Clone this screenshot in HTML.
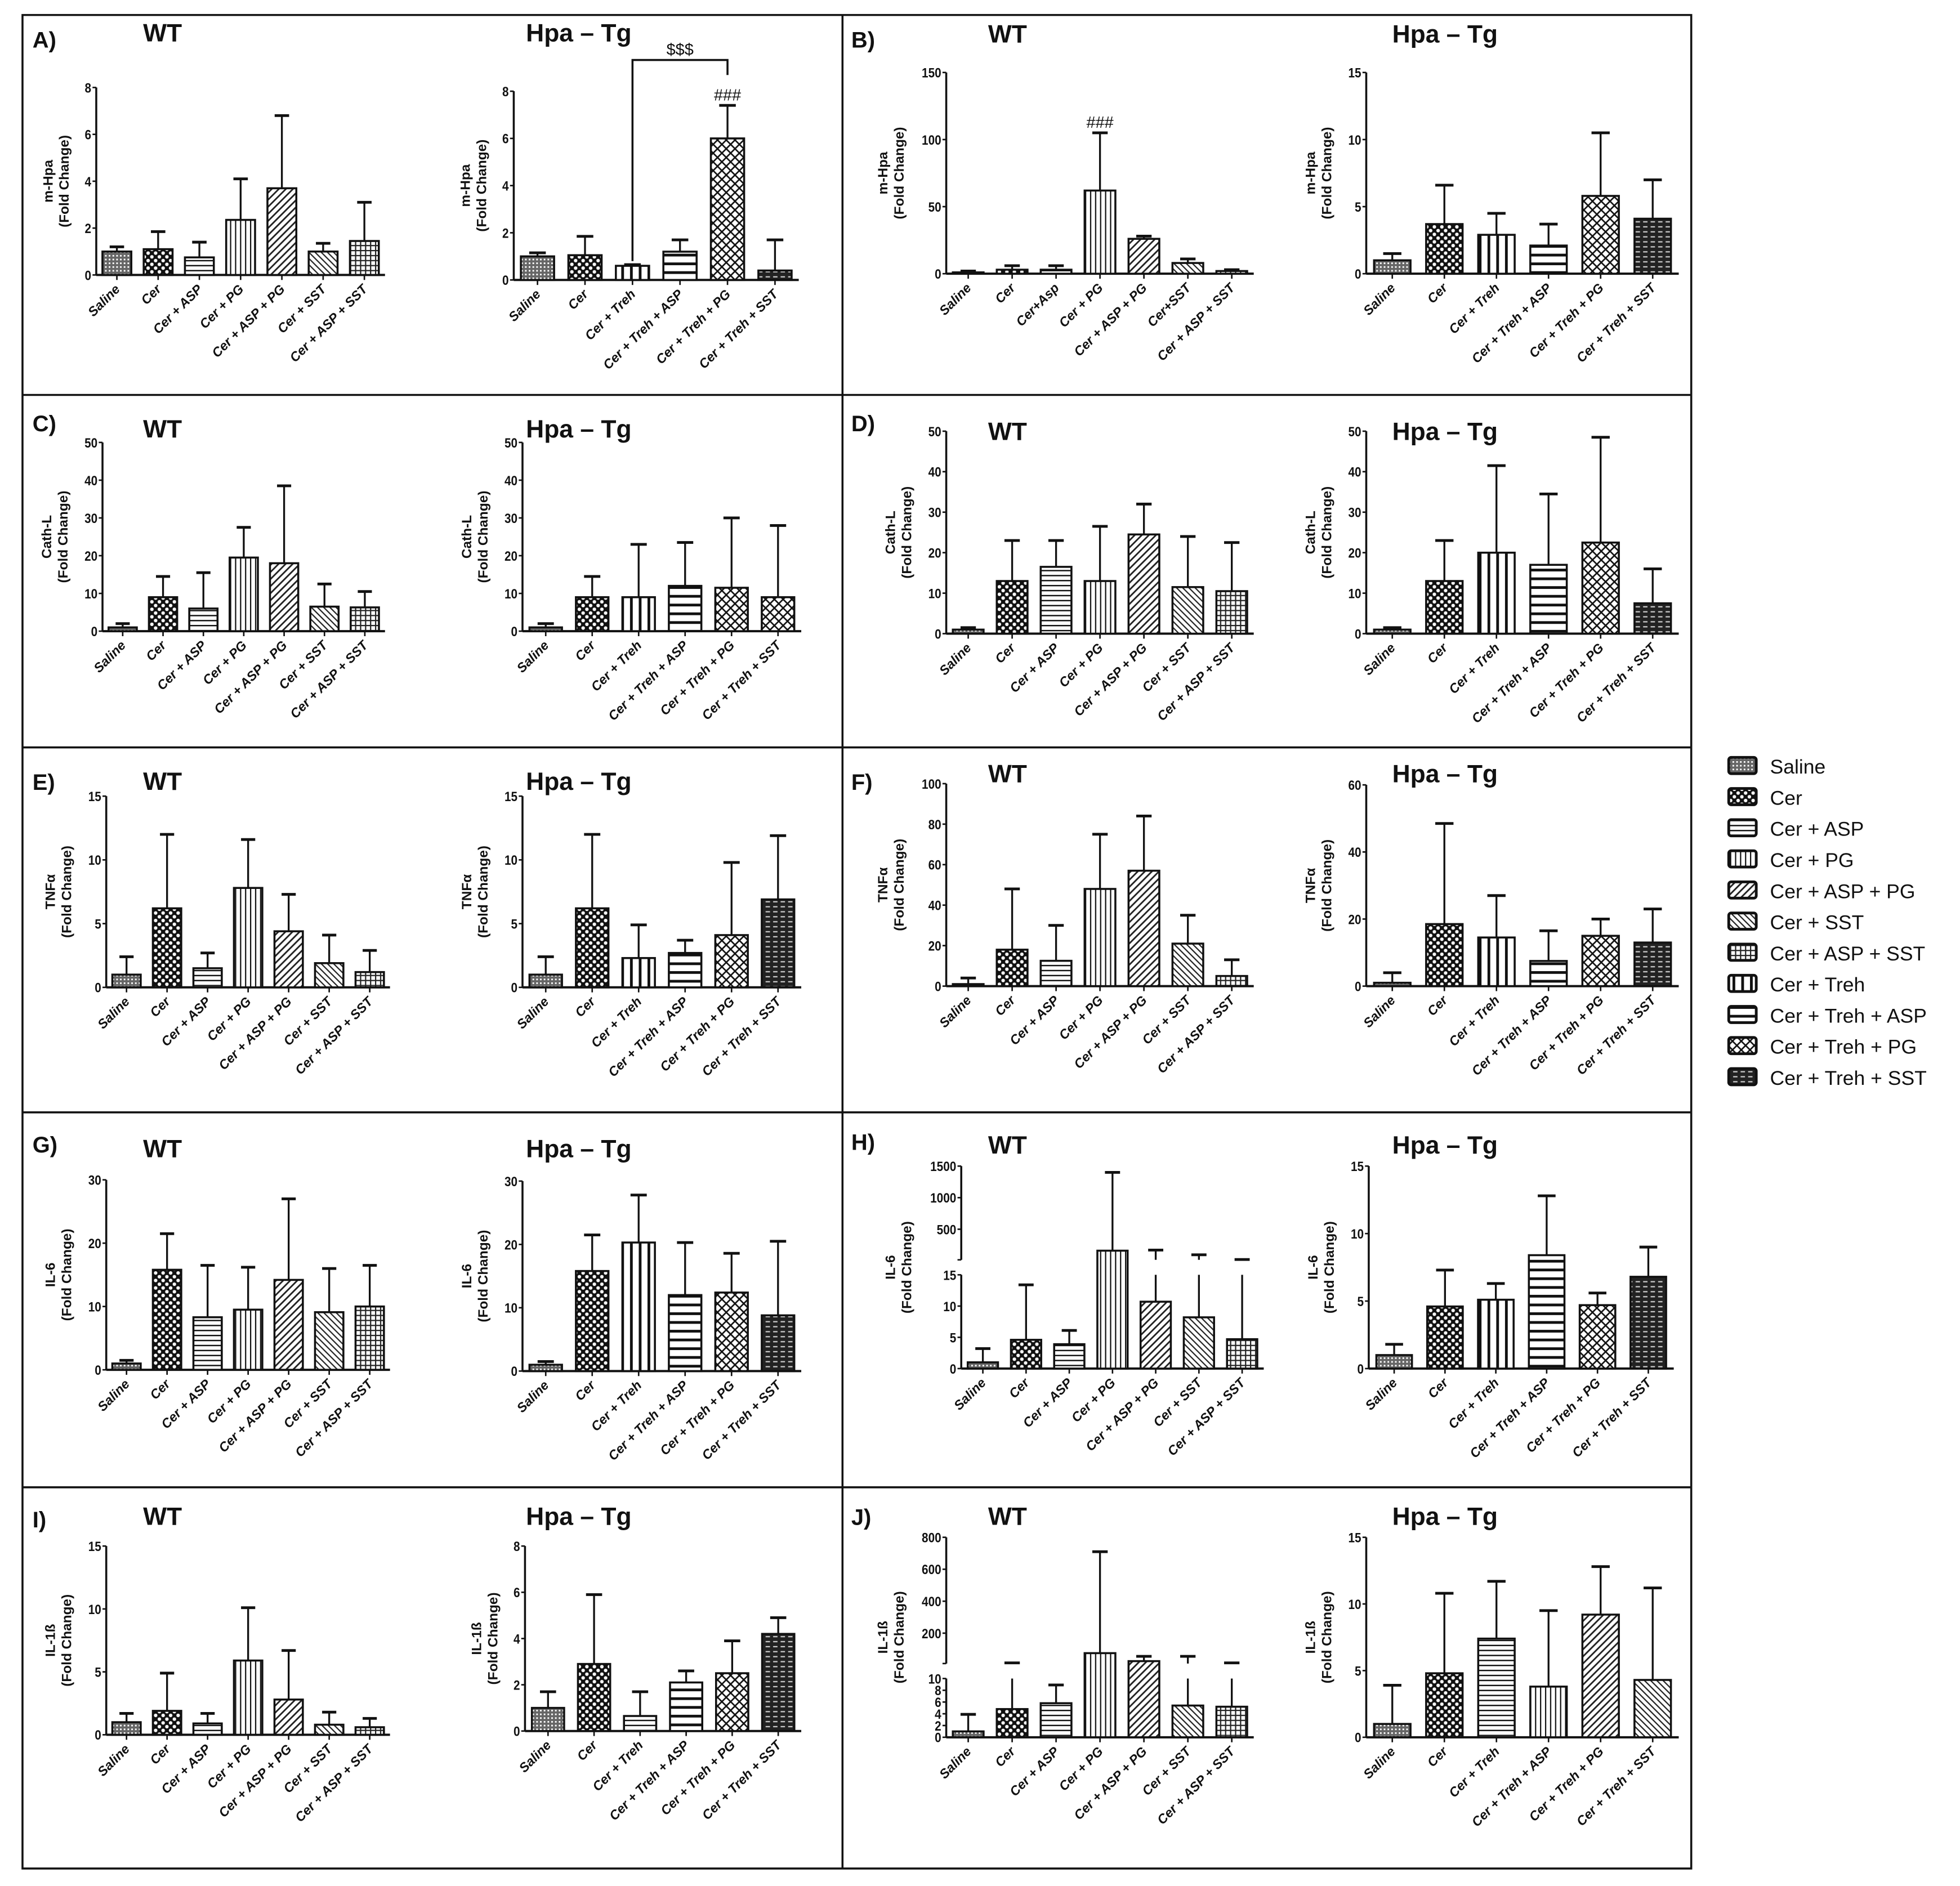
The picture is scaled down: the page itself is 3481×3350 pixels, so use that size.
<!DOCTYPE html>
<html><head><meta charset="utf-8"><style>
html,body{margin:0;padding:0;background:#fff}
svg{display:block}
text{font-family:"Liberation Sans",sans-serif;fill:#111}
</style></head><body>
<svg id="fig" xmlns="http://www.w3.org/2000/svg" width="3481" height="3350" viewBox="0 0 1568 1509">
<defs>
<pattern id="p-saline" patternUnits="userSpaceOnUse" width="3" height="3"><rect width="3" height="3" fill="#666"/><rect x="0" y="0" width="1.3" height="1.3" fill="#fff"/></pattern>
<pattern id="p-cer" patternUnits="userSpaceOnUse" width="6" height="6"><rect width="6" height="6" fill="#111"/><circle cx="1.5" cy="1.5" r="1.4" fill="#fff"/><circle cx="4.5" cy="4.5" r="1.4" fill="#fff"/></pattern>
<pattern id="p-asp" patternUnits="userSpaceOnUse" width="4" height="4"><rect width="4" height="4" fill="#fff"/><rect y="0" width="4" height="1.1" fill="#111"/></pattern>
<pattern id="p-pg" patternUnits="userSpaceOnUse" width="4" height="4"><rect width="4" height="4" fill="#fff"/><rect x="0" width="1" height="4" fill="#111"/></pattern>
<pattern id="p-asppg" patternUnits="userSpaceOnUse" width="4" height="4" patternTransform="rotate(45)"><rect width="4" height="4" fill="#fff"/><rect x="0" width="1.3" height="4" fill="#222"/></pattern>
<pattern id="p-sst" patternUnits="userSpaceOnUse" width="3.5" height="3.5" patternTransform="rotate(-45)"><rect width="4" height="4" fill="#fff"/><rect x="0" width="1" height="4" fill="#222"/></pattern>
<pattern id="p-aspsst" patternUnits="userSpaceOnUse" width="4" height="4"><rect width="4" height="4" fill="#fff"/><rect width="4" height="1" fill="#222"/><rect width="1" height="4" fill="#222"/></pattern>
<pattern id="p-treh" patternUnits="userSpaceOnUse" width="7" height="7"><rect width="7" height="7" fill="#fff"/><rect width="2.2" height="7" fill="#111"/></pattern>
<pattern id="p-trehasp" patternUnits="userSpaceOnUse" width="7" height="7"><rect width="7" height="7" fill="#fff"/><rect width="7" height="2.2" fill="#111"/></pattern>
<pattern id="p-trehpg" patternUnits="userSpaceOnUse" width="7" height="7"><rect width="7" height="7" fill="#fff"/><path d="M0 0L7 7M7 0L0 7" stroke="#111" stroke-width="1.2"/></pattern>
<pattern id="p-trehsst" patternUnits="userSpaceOnUse" width="6" height="4"><rect width="6" height="4" fill="#222"/><rect x="0.5" y="1" width="3.5" height="1" fill="#ccc"/></pattern>
</defs>
</svg>
<script>
// ---- categories ----
const catWT = ["Saline","Cer","Cer + ASP","Cer + PG","Cer + ASP + PG","Cer + SST","Cer + ASP + SST"];
const catWTb = ["Saline","Cer","Cer+Asp","Cer + PG","Cer + ASP + PG","Cer+SST","Cer + ASP + SST"];
const catTg = ["Saline","Cer","Cer + Treh","Cer + Treh + ASP","Cer + Treh + PG","Cer + Treh + SST"];
const legendLabels = ["Saline","Cer","Cer + ASP","Cer + PG","Cer + ASP + PG","Cer + SST","Cer + ASP + SST","Cer + Treh","Cer + Treh + ASP","Cer + Treh + PG","Cer + Treh + SST"];
// ---- values (mean) and error tops ----
const aWtVals=[1.0,1.1,0.75,2.35,3.7,1.0,1.45], aWtTops=[1.2,1.85,1.4,4.1,6.8,1.35,3.1];
const aTgVals=[1.0,1.05,0.6,1.2,6.0,0.4], aTgTops=[1.15,1.85,0.65,1.7,7.4,1.7];
const bWtVals=[1,3,3,62,26,8,2], bWtTops=[2,6,6,105,28,11,3];
const bTgVals=[1,3.7,2.9,2.1,5.8,4.1], bTgTops=[1.5,6.6,4.5,3.7,10.5,7.0];
const cWtVals=[1,9,6,19.5,18,6.5,6.3], cWtTops=[2,14.5,15.5,27.5,38.5,12.5,10.5];
const cTgVals=[1,9,9,12,11.5,9], cTgTops=[2,14.5,23,23.5,30,28];
const dWtVals=[1,13,16.5,13,24.5,11.5,10.5], dWtTops=[1.5,23,23,26.5,32,24,22.5];
const dTgVals=[1,13,20,17,22.5,7.5], dTgTops=[1.5,23,41.5,34.5,48.5,16];
const eWtVals=[1,6.2,1.5,7.8,4.4,1.9,1.2], eWtTops=[2.4,12,2.7,11.6,7.3,4.1,2.9];
const eTgVals=[1,6.2,2.3,2.7,4.1,6.9], eTgTops=[2.4,12,4.9,3.7,9.8,11.9];
const fWtVals=[1,18,12.5,48,57,21,5], fWtTops=[4,48,30,75,84,35,13];
const fTgVals=[1,18.5,14.5,7.5,15,13], fTgTops=[4,48.5,27,16.5,20,23];
const gWtVals=[1,15.8,8.3,9.5,14.2,9.1,10], gWtTops=[1.5,21.5,16.5,16.2,27,16,16.5];
const gTgVals=[1,15.8,20.3,12,12.4,8.8], gTgTops=[1.5,21.5,27.8,20.3,18.6,20.5];
const hWtVals=[1,4.6,3.9,160,10.7,8.2,4.7], hWtTops=[3.2,13.4,6.1,1400,170,95,20];
const hTgVals=[1,4.6,5.1,8.4,4.7,6.8], hTgTops=[1.8,7.3,6.3,12.8,5.6,9.0];
const iWtVals=[1,1.9,0.9,5.9,2.8,0.8,0.6], iWtTops=[1.7,4.9,1.7,10.1,6.7,1.8,1.3];
const iTgVals=[1,2.9,0.65,2.1,2.5,4.2], iTgTops=[1.7,5.9,1.7,2.6,3.9,4.9];
const jWtVals=[1,4.8,5.8,75,25,5.4,5.2], jWtTops=[3.9,14,8.9,710,55,55,14];
const jTgVals=[1,4.8,7.4,3.8,9.2,4.3], jTgTops=[3.9,10.8,11.7,9.5,12.8,11.2];
// ---- tick labels ----
const t8=[0,2,4,6,8], t150=[0,50,100,150], t15=[0,5,10,15], t50=[0,10,20,30,40,50], t100=[0,20,40,60,80,100], t60=[0,20,40,60], t30=[0,10,20,30];
const hLow=[0,5,10,15], hUp=[500,1000,1500], jLow=[0,2,4,6,8,10], jUp=[200,400,600,800];

const NS="http://www.w3.org/2000/svg", svg=document.getElementById('fig');
function mk(tag,at,parent){const e=document.createElementNS(NS,tag);for(const k in at)e.setAttribute(k,at[k]);(parent||svg).appendChild(e);return e;}
const patWT=["saline","cer","asp","pg","asppg","sst","aspsst"], patTg=["saline","cer","treh","trehasp","trehpg","trehsst"];
const patLeg=["saline","cer","asp","pg","asppg","sst","aspsst","treh","trehasp","trehpg","trehsst"];

function chart(o){
  const g=mk('g',{});
  
  
  let y;
  if(o.broken){const b=o.broken;
    y=v=> v<=b.lmax ? o.base-(v/b.lmax)*(o.base-b.lTop) : b.uBot-(v-b.lmax)/(o.max-b.lmax)*(b.uBot-o.top);
  } else y=v=>o.base-v/o.max*(o.base-o.top);
  const n=o.vals.length, sp=(o.xe-o.x)/n, bw=sp*0.7;
  const ax=mk('path',{d:o.broken?`M${o.x} ${o.base}V${o.broken.lTop}M${o.x} ${o.broken.uBot}V${o.top}`:`M${o.x} ${o.base}V${o.top}`,stroke:'#111','stroke-width':1.6,fill:'none'},g);
  
  
  const xa=mk('line',{x1:o.x,x2:o.xe,y1:o.base,y2:o.base,stroke:'#111','stroke-width':1.8},g);
  
  
  const ticks=o.broken?o.broken.lowT.concat(o.broken.upT):o.ticks;
  ticks.forEach(t=>{const yy=y(t);
    mk('line',{x1:o.x-3,x2:o.x,y1:yy,y2:yy,stroke:'#111','stroke-width':1.2},g);
    const tl=mk('text',{x:o.x-4,y:yy+4,'text-anchor':'end','font-size':11,'font-weight':'bold',transform:`scale(0.85 1) translate(${(o.x-4)*(1/0.85-1)} 0)`},g);
    tl.textContent=t;
    
    
  });
  if(o.broken) mk('line',{x1:o.x-3,x2:o.x,y1:o.broken.uBot,y2:o.broken.uBot,stroke:'#111','stroke-width':1.2},g);
  const maxLen=String(ticks[ticks.length-1]).length;
  const tx=o.x-16-6*maxLen, cy=(o.top+o.base)/2;
  const t1=mk('text',{x:0,y:0,'text-anchor':'middle','font-size':11,'font-weight':'bold',transform:`translate(${tx-13} ${cy}) rotate(-90)`},g);
  t1.textContent=o.ylab;
  
  
  const t2=mk('text',{x:0,y:0,'text-anchor':'middle','font-size':11,'font-weight':'bold',transform:`translate(${tx} ${cy}) rotate(-90)`},g);
  t2.textContent='(Fold Change)';
  
  
  for(let i=0;i<n;i++){
    const cx=o.x+sp*(i+0.5), yv=y(o.vals[i]), yt=y(o.tops[i]);
    let d=`M${cx} ${yv}V${yt}`;
    if(o.broken && o.vals[i]<o.broken.lmax && o.tops[i]>o.broken.lmax) d=`M${cx} ${yv}V${o.broken.lTop}M${cx} ${o.broken.uBot}V${yt}`;
    const el=mk('path',{d:d,stroke:'#111','stroke-width':1.5,fill:'none'},g);
    
    
    mk('line',{x1:cx-bw*0.25,x2:cx+bw*0.25,y1:yt,y2:yt,stroke:'#111','stroke-width':2.2},g);
    const r=mk('rect',{x:cx-bw/2,y:yv,width:bw,height:o.base-yv,fill:`url(#p-${o.pats[i]})`,stroke:'#111','stroke-width':1.6},g);
    
    
    mk('line',{x1:cx,x2:cx,y1:o.base,y2:o.base+4,stroke:'#111','stroke-width':1.2},g);
    const lb=mk('text',{x:0,y:0,'text-anchor':'end','font-size':10.5,'font-weight':'bold','font-style':'italic',transform:`translate(${cx+3} ${o.base+12}) rotate(-45)`},g);
    lb.textContent=o.cats[i];
    
    
  }
  return {y,sp,x:o.x};
}
function txt(s,x,y,size,name,anchor,weight){const t=mk('text',{x,y,'font-size':size,'font-weight':weight||'bold','text-anchor':anchor||'start'});t.textContent=s;return t;}

const fr=mk('path',{d:'M18 12H1353V1495H18ZM674 12V1495M18 316H1353M18 598H1353M18 890H1353M18 1190H1353',fill:'none',stroke:'#111','stroke-width':1.6});



const rows=[
 {L:'A',R:'B',lt:33,rt:34,ll:38,rl:38},{L:'C',R:'D',lt:350,rt:352,ll:345,rl:345},
 {L:'E',R:'F',lt:632,rt:626,ll:632,rl:632},{L:'G',R:'H',lt:926,rt:923,ll:922,rl:920},
 {L:'I',R:'J',lt:1220,rt:1220,ll:1222,rl:1220}];
rows.forEach(r=>{
  txt(r.L+')',26,r.ll,18,'panel-label-'+r.L.toLowerCase());
  txt(r.R+')',681,r.rl,18,'panel-label-'+r.R.toLowerCase());
  txt('WT',130,r.lt,20,'title-wt','middle');
  txt('Hpa – Tg',463,r.lt,20,'title-hpa-tg','middle');
  txt('WT',806,r.rt,20,'title-wt','middle');
  txt('Hpa – Tg',1156,r.rt,20,'title-hpa-tg','middle');
});

chart({name:'chart-a-wt',x:77,xe:308,top:70,base:220,max:8,ticks:t8,vals:aWtVals,tops:aWtTops,pats:patWT,cats:catWT,ylab:'m-Hpa'});
const aTg=chart({name:'chart-a-tg',x:411,xe:639,top:73,base:224,max:8,ticks:t8,vals:aTgVals,tops:aTgTops,pats:patTg,cats:catTg,ylab:'m-Hpa'});
const bWt=chart({name:'chart-b-wt',x:757,xe:1003,top:58,base:219,max:150,ticks:t150,vals:bWtVals,tops:bWtTops,pats:patWT,cats:catWTb,ylab:'m-Hpa'});
chart({name:'chart-b-tg',x:1093,xe:1343,top:58,base:219,max:15,ticks:t15,vals:bTgVals,tops:bTgTops,pats:patTg,cats:catTg,ylab:'m-Hpa'});
chart({name:'chart-c-wt',x:82,xe:308,top:354,base:505,max:50,ticks:t50,vals:cWtVals,tops:cWtTops,pats:patWT,cats:catWT,ylab:'Cath-L'});
chart({name:'chart-c-tg',x:418,xe:641,top:354,base:505,max:50,ticks:t50,vals:cTgVals,tops:cTgTops,pats:["saline","cer","treh","trehasp","trehpg","trehpg"],cats:catTg,ylab:'Cath-L'});
chart({name:'chart-d-wt',x:757,xe:1003,top:345,base:507,max:50,ticks:t50,vals:dWtVals,tops:dWtTops,pats:patWT,cats:catWT,ylab:'Cath-L'});
chart({name:'chart-d-tg',x:1093,xe:1343,top:345,base:507,max:50,ticks:t50,vals:dTgVals,tops:dTgTops,pats:patTg,cats:catTg,ylab:'Cath-L'});
chart({name:'chart-e-wt',x:85,xe:312,top:637,base:790,max:15,ticks:t15,vals:eWtVals,tops:eWtTops,pats:patWT,cats:catWT,ylab:'TNFα'});
chart({name:'chart-e-tg',x:418,xe:641,top:637,base:790,max:15,ticks:t15,vals:eTgVals,tops:eTgTops,pats:patTg,cats:catTg,ylab:'TNFα'});
chart({name:'chart-f-wt',x:757,xe:1003,top:627,base:789,max:100,ticks:t100,vals:fWtVals,tops:fWtTops,pats:patWT,cats:catWT,ylab:'TNFα'});
chart({name:'chart-f-tg',x:1093,xe:1343,top:628,base:789,max:60,ticks:t60,vals:fTgVals,tops:fTgTops,pats:patTg,cats:catTg,ylab:'TNFα'});
chart({name:'chart-g-wt',x:85,xe:312,top:944,base:1096,max:30,ticks:t30,vals:gWtVals,tops:gWtTops,pats:patWT,cats:catWT,ylab:'IL-6'});
chart({name:'chart-g-tg',x:418,xe:641,top:945,base:1097,max:30,ticks:t30,vals:gTgVals,tops:gTgTops,pats:patTg,cats:catTg,ylab:'IL-6'});
chart({name:'chart-h-wt',x:769,xe:1011,top:933,base:1095,max:1500,broken:{lmax:15,lTop:1020,uBot:1008,lowT:hLow,upT:hUp},vals:hWtVals,tops:hWtTops,pats:patWT,cats:catWT,ylab:'IL-6'});
chart({name:'chart-h-tg',x:1095,xe:1339,top:933,base:1095,max:15,ticks:t15,vals:hTgVals,tops:hTgTops,pats:patTg,cats:catTg,ylab:'IL-6'});
chart({name:'chart-i-wt',x:85,xe:312,top:1237,base:1388,max:15,ticks:t15,vals:iWtVals,tops:iWtTops,pats:patWT,cats:catWT,ylab:'IL-1ß'});
chart({name:'chart-i-tg',x:420,xe:641,top:1237,base:1385,max:8,ticks:t8,vals:iTgVals,tops:iTgTops,pats:["saline","cer","asp","trehasp","trehpg","trehsst"],cats:catTg,ylab:'IL-1ß'});
chart({name:'chart-j-wt',x:757,xe:1003,top:1230,base:1390,max:800,broken:{lmax:10,lTop:1343,uBot:1331,lowT:jLow,upT:jUp},vals:jWtVals,tops:jWtTops,pats:patWT,cats:catWT,ylab:'IL-1ß'});
chart({name:'chart-j-tg',x:1093,xe:1343,top:1230,base:1390,max:15,ticks:t15,vals:jTgVals,tops:jTgTops,pats:["saline","cer","asp","pg","asppg","sst"],cats:catTg,ylab:'IL-1ß'});

const x3=aTg.x+aTg.sp*2.5, x5=aTg.x+aTg.sp*4.5;
const br=mk('path',{d:`M${x3} ${aTg.y(0.8)}V48H${x5}V60`,fill:'none',stroke:'#111','stroke-width':1.6});


txt('$$$',(x3+x5)/2,44,13,'significance-dollar','middle','normal');
txt('###',x5,aTg.y(aTgTops[4])-4,13,'significance-hash','middle','normal');
txt('###',bWt.x+bWt.sp*3.5,bWt.y(bWtTops[3])-4,13,'significance-hash','middle','normal');

legendLabels.forEach((s,i)=>{
  const yy=613+i*24.9;
  const r=mk('rect',{x:1383,y:yy-7,width:22,height:13,rx:2,fill:`url(#p-${patLeg[i]})`,stroke:'#111','stroke-width':2.2});
  
  
  const t=txt(s,1416,yy+6,16,'legend-entry','start','normal');
  t.setAttribute('fill','#222');
});
</script>
</body></html>
